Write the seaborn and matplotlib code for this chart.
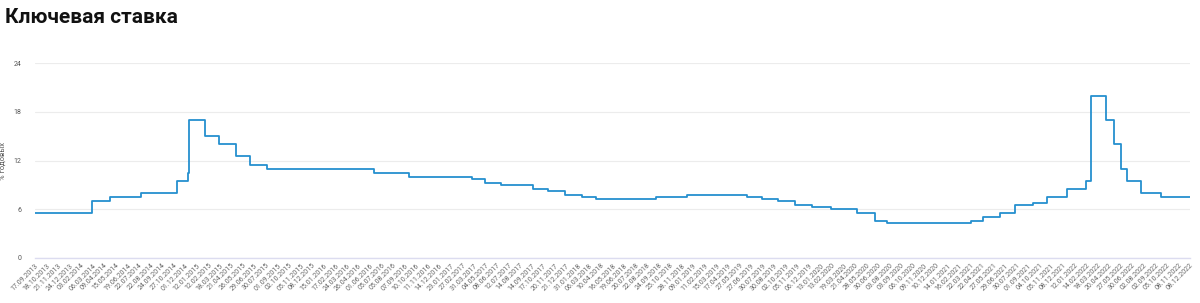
import numpy as np
import pandas as pd
import matplotlib
matplotlib.use("Agg")
import matplotlib.pyplot as plt
import seaborn as sns

# Key rate change dates and values (% per year)
change_dates = [
    "17.09.2013", "03.03.2014", "28.04.2014", "28.07.2014", "05.11.2014", "12.12.2014",
    "16.12.2014", "02.02.2015", "16.03.2015", "05.05.2015", "16.06.2015", "03.08.2015",
    "14.06.2016", "19.09.2016", "27.03.2017", "02.05.2017", "19.06.2017", "18.09.2017",
    "30.10.2017", "18.12.2017", "12.02.2018", "26.03.2018", "17.09.2018", "17.12.2018",
    "17.06.2019", "29.07.2019", "09.09.2019", "28.10.2019", "16.12.2019", "10.02.2020",
    "27.04.2020", "22.06.2020", "27.07.2020", "22.03.2021", "26.04.2021", "15.06.2021",
    "26.07.2021", "13.09.2021", "25.10.2021", "20.12.2021", "14.02.2022", "28.02.2022",
    "11.04.2022", "04.05.2022", "27.05.2022", "14.06.2022", "25.07.2022", "19.09.2022",
    "08.12.2022",
]
rates = [
    5.50, 7.00, 7.50, 8.00, 9.50, 10.50,
    17.00, 15.00, 14.00, 12.50, 11.50, 11.00,
    10.50, 10.00, 9.75, 9.25, 9.00, 8.50,
    8.25, 7.75, 7.50, 7.25, 7.50, 7.75,
    7.50, 7.25, 7.00, 6.50, 6.25, 6.00,
    5.50, 4.50, 4.25, 4.50, 5.00, 5.50,
    6.50, 6.75, 7.50, 8.50, 9.50, 20.00,
    17.00, 14.00, 11.00, 9.50, 8.00, 7.50,
    7.50,
]

tick_labels = [
    "17.09.2013", "18.10.2013", "21.11.2013", "24.12.2013",
    "03.02.2014", "06.03.2014", "09.04.2014", "15.05.2014", "19.06.2014", "22.07.2014",
    "22.08.2014", "24.09.2014", "27.10.2014", "01.12.2014",
    "12.01.2015", "12.02.2015", "18.03.2015", "21.04.2015", "26.05.2015", "29.06.2015",
    "30.07.2015", "01.09.2015", "02.10.2015", "05.11.2015", "08.12.2015",
    "15.01.2016", "17.02.2016", "24.03.2016", "26.04.2016", "01.06.2016", "05.07.2016",
    "05.08.2016", "07.09.2016", "10.10.2016", "11.11.2016", "14.12.2016",
    "23.01.2017", "27.02.2017", "31.03.2017", "04.05.2017", "08.06.2017", "12.07.2017",
    "14.08.2017", "14.09.2017", "17.10.2017", "20.11.2017", "21.12.2017",
    "31.01.2018", "06.03.2018", "10.04.2018", "16.05.2018", "19.06.2018", "20.07.2018",
    "22.08.2018", "24.09.2018", "25.10.2018", "28.11.2018",
    "09.01.2019", "11.02.2019", "15.03.2019", "17.04.2019", "27.05.2019", "27.06.2019",
    "30.07.2019", "30.08.2019", "02.10.2019", "05.11.2019", "06.12.2019",
    "13.01.2020", "13.02.2020", "19.03.2020", "21.04.2020", "28.05.2020", "30.06.2020",
    "03.08.2020", "03.09.2020", "06.10.2020", "09.11.2020", "10.12.2020",
    "14.01.2021", "16.02.2021", "22.03.2021", "22.04.2021", "27.05.2021", "29.06.2021",
    "30.07.2021", "01.09.2021", "04.10.2021", "05.11.2021", "08.12.2021",
    "12.01.2022", "14.02.2022", "18.03.2022", "20.04.2022", "27.05.2022", "30.06.2022",
    "02.08.2022", "02.09.2022", "05.10.2022", "08.11.2022", "08.12.2022",
]
y_ticks = [0, 6, 12, 18, 24]

# map calendar dates onto the evenly spaced (trading-day) category axis
tick_dt = pd.to_datetime(tick_labels, format="%d.%m.%Y")
chg_dt = pd.to_datetime(change_dates, format="%d.%m.%Y")
tick_ord = tick_dt.map(pd.Timestamp.toordinal).to_numpy(dtype=float)
chg_ord = chg_dt.map(pd.Timestamp.toordinal).to_numpy(dtype=float)
pos = np.interp(chg_ord, tick_ord, np.arange(len(tick_labels)))

df = pd.DataFrame({"pos": pos, "rate": rates})

sns.set_theme(style="white")
plt.rcParams["font.family"] = ["Roboto", "DejaVu Sans"]

fig = plt.figure(figsize=(12, 3.03), dpi=100)
ax = fig.add_axes([35 / 1200, 45 / 303, (1190 - 35) / 1200, (258 - 63) / 303])

sns.lineplot(data=df, x="pos", y="rate", ax=ax, color="#2590cf",
             linewidth=1.3, drawstyle="steps-post", estimator=None, sort=False)

ax.set_xlim(0, len(tick_labels) - 1)
ax.set_ylim(0, 24)
ax.set_yticks(y_ticks)
ax.set_yticklabels([str(v) for v in y_ticks], fontsize=5, color="#555555")
ax.set_xticks(np.arange(len(tick_labels)))
ax.set_xticklabels(tick_labels, rotation=45, ha="right", rotation_mode="anchor",
                   fontsize=5, color="#666666")
ax.tick_params(axis="y", length=0, pad=10)
ax.tick_params(axis="x", length=0, pad=3)
ax.grid(axis="y", color="#ececec", linewidth=0.8)
ax.grid(axis="x", visible=False)
for s in ["top", "right", "left"]:
    ax.spines[s].set_visible(False)
ax.spines["bottom"].set_color("#dcdcf0")
ax.spines["bottom"].set_linewidth(1.0)
ax.set_xlabel("")
ax.set_ylabel("% годовых", fontsize=5.5, color="#555555", labelpad=5)

fig.text(5 / 1200, 1 - 8 / 303, "Ключевая ставка", fontsize=15, fontweight="bold",
         color="#111111", ha="left", va="top")

fig.savefig("out.png", dpi=100, facecolor="white")
